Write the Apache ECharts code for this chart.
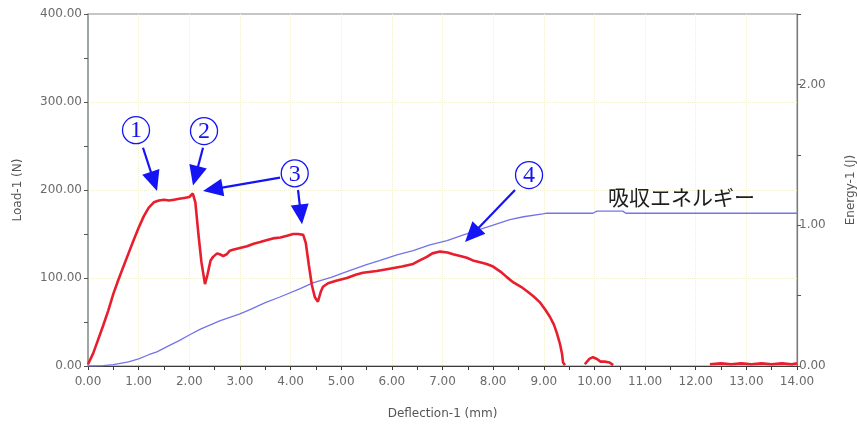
<!DOCTYPE html>
<html>
<head>
<meta charset="utf-8">
<script src="https://cdn.jsdelivr.net/npm/echarts@6/dist/echarts.min.js"></script>
<style>
  html, body { margin: 0; padding: 0; background: #ffffff; }
  #chart { width: 857px; height: 426px; }
</style>
</head>
<body>
<div id="chart"></div>
<script>
// Load-1 (N) against Deflection-1 (mm); null breaks the trace where it sits on the axis
const loadX = [0, 0.1, 0.2, 0.3, 0.4, 0.5, 0.6, 0.7, 0.8, 0.9, 1.0, 1.1, 1.2, 1.3, 1.4, 1.5, 1.6, 1.7, 1.8, 1.9,
  2.0, 2.07, 2.12, 2.18, 2.24, 2.31, 2.36, 2.42, 2.47, 2.55, 2.6, 2.67, 2.74, 2.8, 2.86, 3.0, 3.14, 3.27, 3.4, 3.52,
  3.65, 3.8, 3.93, 4.05, 4.15, 4.25, 4.3, 4.36, 4.42, 4.48, 4.54, 4.6, 4.64, 4.74, 4.9, 5.11, 5.3, 5.43, 5.7, 5.9,
  6.2, 6.42, 6.55, 6.69, 6.8, 6.95, 7.1, 7.21, 7.35, 7.48, 7.6, 7.74, 7.87, 8.0, 8.15, 8.27, 8.4, 8.55, 8.67, 8.8,
  8.93, 9.03, 9.12, 9.2, 9.26, 9.32, 9.36, 9.38, 9.42, 9.5,
  9.81, 9.9, 9.97, 10.05, 10.12, 10.2, 10.3, 10.37, 10.45,
  12.28, 12.5, 12.7, 12.9, 13.1, 13.3, 13.5, 13.7, 13.9, 14.0];
const loadY = [2, 14, 30, 46, 63, 82, 98, 113, 128, 143, 157, 170, 180, 186, 188, 189, 188, 189, 190, 191,
  192, 196, 186, 150, 118, 93, 104, 120, 124, 128, 127, 125, 127, 131, 132, 134, 136, 139, 141, 143,
  145, 146, 148, 150, 150, 149, 140, 115, 92, 78, 73, 85, 90, 94, 97, 100, 104, 106, 108, 110,
  113, 116, 120, 124, 128, 130, 129, 127, 125, 123, 120, 118, 116, 113, 107, 101, 95, 90, 85, 79,
  72, 64, 56, 47, 37, 25, 14, 4, 1, null,
  2, 8, 10, 8, 5, 5, 4, 1, null,
  2, 3, 2, 3, 2, 3, 2, 3, 2, 3];

// Energy-1 (J) against Deflection-1 (mm)
const energyX = [0, 0.3, 0.5, 0.8, 1.0, 1.2, 1.36, 1.6, 1.8, 2.0, 2.21, 2.6, 3.0, 3.2, 3.5, 3.79, 4.19, 4.44,
  4.8, 5.11, 5.5, 5.77, 6.1, 6.42, 6.75, 7.09, 7.4, 7.74, 8.0, 8.33, 8.6, 8.98, 9.06, 9.97, 10.05, 10.56, 10.62, 14.0];
const energyY = [0, 0.003, 0.01, 0.03, 0.05, 0.08, 0.10, 0.145, 0.18, 0.22, 0.26, 0.32, 0.37, 0.40, 0.45, 0.49, 0.55, 0.59,
  0.63, 0.67, 0.72, 0.75, 0.79, 0.82, 0.86, 0.89, 0.93, 0.97, 1.0, 1.04, 1.06, 1.08, 1.085, 1.085, 1.10, 1.10, 1.085, 1.085];

// Callouts, placed in deflection / load units
const callouts = [
  { mark: '1', at: [0.948, 268] },
  { mark: '2', at: [2.291, 267] },
  { mark: '3', at: [4.082, 219] },
  { mark: '4', at: [8.709, 217] }
];
const arrows = [
  { from: [1.086, 248], to: [1.363, 199] },
  { from: [2.271, 248], to: [2.073, 205] },
  { from: [3.791, 214], to: [2.271, 199] },
  { from: [4.147, 200], to: [4.226, 161] },
  { from: [8.432, 200], to: [7.445, 141] }
];
const energyNote = { text: '吸収エネルギー', at: [10.27, 192] };

const pair = (xs, ys) => xs.map((x, i) => [x, ys[i]]);
const fmt2 = v => v.toFixed(2);
const labelFont = { color: '#6a6a6a', fontSize: 12, fontFamily: 'DejaVu Sans' };
const nameFont = { color: '#555555', fontSize: 12, fontFamily: 'DejaVu Sans' };
const faintGrid = { show: true, showMinLine: false, showMaxLine: false, lineStyle: { color: '#f1f0d6', type: 'dotted' } };

const chart = echarts.init(document.getElementById('chart'), null, { renderer: 'canvas' });

chart.setOption({
  animation: false,
  backgroundColor: '#ffffff',
  grid: {
    left: 88, right: 60, top: 14, bottom: 60,
    outerBoundsMode: 'none', containLabel: false,
    show: true, borderColor: '#8c8c8c', borderWidth: 1, backgroundColor: 'transparent'
  },
  xAxis: {
    type: 'value', min: 0, max: 14, interval: 1,
    name: 'Deflection-1 (mm)', nameLocation: 'middle', nameGap: 42, nameTextStyle: nameFont,
    axisLine: { lineStyle: { color: '#3a3a3a', width: 1.2 } },
    axisTick: { show: true, length: 4, lineStyle: { color: '#3a3a3a' } },
    minorTick: { show: true, splitNumber: 2, length: 4, lineStyle: { color: '#3a3a3a' } },
    axisLabel: Object.assign({ margin: 10, formatter: fmt2 }, labelFont),
    splitLine: faintGrid
  },
  yAxis: [
    {
      type: 'value', min: 0, max: 400, interval: 100, position: 'left',
      name: 'Load-1 (N)', nameLocation: 'middle', nameGap: 64, nameTextStyle: nameFont,
      axisLine: { show: true, lineStyle: { color: '#8f9a9a', width: 1.5 } },
      axisTick: { show: true, length: 4, lineStyle: { color: '#555555' } },
      minorTick: { show: true, splitNumber: 2, length: 4, lineStyle: { color: '#555555' } },
      axisLabel: Object.assign({ margin: 6, formatter: fmt2 }, labelFont),
      splitLine: faintGrid
    },
    {
      type: 'value', min: 0, max: 2.5, interval: 0.5, position: 'right',
      name: 'Energy-1 (J)', nameLocation: 'middle', nameGap: 48, nameRotate: 90, nameTextStyle: nameFont,
      axisLine: { show: true, lineStyle: { color: '#7a7a7a', width: 1.2 } },
      axisTick: { show: true, length: 4, lineStyle: { color: '#555555' } },
      axisLabel: Object.assign({ margin: 2, formatter: v => (Math.abs(v - Math.round(v)) < 1e-9 ? fmt2(v) : '') }, labelFont),
      splitLine: { show: false }
    }
  ],
  series: [
    {
      name: 'Energy-1', type: 'line', yAxisIndex: 1, data: pair(energyX, energyY),
      showSymbol: false, symbol: 'none', smooth: false,
      lineStyle: { color: '#7474e8', width: 1.3 }, z: 2
    },
    {
      name: 'Load-1', type: 'line', yAxisIndex: 0, data: pair(loadX, loadY),
      showSymbol: false, symbol: 'none', smooth: false, connectNulls: false,
      lineStyle: { color: '#e81e2e', width: 2.6 }, z: 3
    }
  ]
});

// Callout layer: circled markers, arrows and the energy note
const BLUE = '#1414f5';
const toPx = p => chart.convertToPixel({ xAxisIndex: 0, yAxisIndex: 0 }, p);
const graphics = [];

callouts.forEach(c => {
  const [cx, cy] = toPx(c.at);
  graphics.push({ type: 'circle', shape: { cx: cx, cy: cy, r: 13.5 }, style: { fill: 'none', stroke: BLUE, lineWidth: 1.3 }, z: 10 });
  graphics.push({
    type: 'text', x: cx, y: cy + 1,
    style: { text: c.mark, font: '24px "Liberation Serif"', fill: BLUE, align: 'center', verticalAlign: 'middle', textAlign: 'center', textVerticalAlign: 'middle' },
    z: 10
  });
});

arrows.forEach(a => {
  const s = toPx(a.from), t = toPx(a.to);
  const dx = t[0] - s[0], dy = t[1] - s[1];
  const len = Math.hypot(dx, dy);
  const ux = dx / len, uy = dy / len;
  const headLen = 20, halfW = 9;
  const bx = t[0] - ux * headLen, by = t[1] - uy * headLen;
  graphics.push({ type: 'line', shape: { x1: s[0], y1: s[1], x2: bx + ux * 2, y2: by + uy * 2 }, style: { stroke: BLUE, lineWidth: 2.2 }, z: 10 });
  graphics.push({
    type: 'polygon',
    shape: { points: [[t[0], t[1]], [bx - uy * halfW, by + ux * halfW], [bx + uy * halfW, by - ux * halfW]] },
    style: { fill: BLUE }, z: 10
  });
});

const np = toPx(energyNote.at);
graphics.push({
  type: 'text', x: np[0], y: np[1],
  style: { text: energyNote.text, font: '21px "Noto Sans CJK JP"', fill: '#1e1e1e', align: 'left', verticalAlign: 'middle', textAlign: 'left', textVerticalAlign: 'middle' },
  z: 10
});

chart.setOption({ graphic: graphics });
</script>
</body>
</html>
